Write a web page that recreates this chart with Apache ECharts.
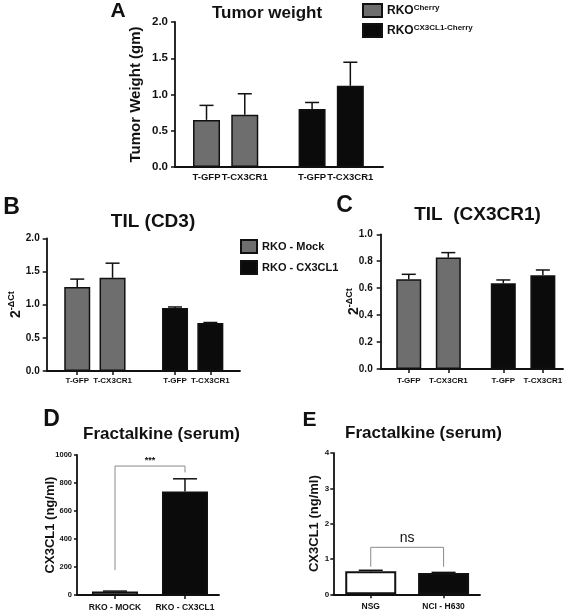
<!DOCTYPE html>
<html><head><meta charset="utf-8">
<script src="https://cdn.jsdelivr.net/npm/echarts@6.0.0/dist/echarts.min.js"></script>
<style>html,body{margin:0;padding:0;background:#fff}#c{width:567px;height:615px}</style>
</head><body><div id="c"></div>
<script>
// ---------- DATA ----------
// Panel A
const catsA = ['T-GFP', 'T-CX3CR1', 'T-GFP', 'T-CX3CR1'];
const groupA = [0, 0, 1, 1];
const seriesNamesA = ['RKOCherry', 'RKOCX3CL1-Cherry'];
const valA = [0.65, 0.72, 0.80, 1.12];
const semA = [0.20, 0.29, 0.09, 0.325];
const ticksA = [0, 0.5, 1.0, 1.5, 2.0];
// Panel B
const catsB = ['T-GFP', 'T-CX3CR1', 'T-GFP', 'T-CX3CR1'];
const groupB = [0, 0, 1, 1];
const seriesNamesB = ['RKO - Mock', 'RKO - CX3CL1'];
const valB = [1.265, 1.405, 0.95, 0.725];
const semB = [0.12, 0.22, 0.015, 0.006];
const ticksB = [0, 0.5, 1.0, 1.5, 2.0];
// Panel C
const catsC = ['T-GFP', 'T-CX3CR1', 'T-GFP', 'T-CX3CR1'];
const groupC = [0, 0, 1, 1];
const valC = [0.666, 0.827, 0.636, 0.696];
const semC = [0.037, 0.037, 0.025, 0.039];
const ticksC = [0, 0.2, 0.4, 0.6, 0.8, 1.0];
// Panel D
const catsD = ['RKO - MOCK', 'RKO - CX3CL1'];
const valD = [25, 740];
const semD = [3, 90];
const ticksD = [0, 200, 400, 600, 800, 1000];
const sigD = { from: 0, to: 1, top: 921, leftEnd: 178, rightEnd: 876, label: '***' };
// Panel E
const catsE = ['NSG', 'NCI - H630'];
const valE = [0.65, 0.60];
const semE = [0.03, 0.02];
const ticksE = [0, 1, 2, 3, 4];
const sigE = { from: 0, to: 1, top: 1.33, leftEnd: 0.78, rightEnd: 0.78, label: 'ns' };

// ---------- STYLE / LAYOUT ----------
const FONT = "'Liberation Sans', Arial, sans-serif";
const INK = '#111';
const GRAY = '#6e6e6e';
const BLACK = '#0b0b0b';

const P = {
  A: {left:175, top:22, width:208, height:145, xmin:-0.824, xmax:4.614, gap:0.76, barW:27, cap:14,
      yFont:11.5, yMargin:7, yTick:4, xFont:9.5, xMargin:5, xTicks:false,
      name:'Tumor Weight (gm)', nameGap:32, nameSize:15, dec:1},
  B: {left:46.7, top:238.3, width:193.3, height:132.7, xmin:-0.865, xmax:4.61, gap:0.77, barW:26, cap:14,
      yFont:10, yMargin:7, yTick:4, xFont:8, xMargin:6, xTicks:true,
      name:'{m|2}{s|-ΔCt}', nameGap:24, nameSize:14, dec:1},
  C: {left:380.7, top:234.3, width:182.3, height:134.7, xmin:-0.709, xmax:3.899, gap:0.39, barW:25, cap:14,
      yFont:10, yMargin:8, yTick:4, xFont:8, xMargin:8, xTicks:true,
      name:'{m|2}{s|-ΔCt}', nameGap:20, nameSize:14, dec:1},
  D: {left:77, top:455, width:142, height:140, xmin:-0.543, xmax:1.486, gap:0, barW:46, cap:24,
      yFont:7.5, yMargin:5, yTick:3, xFont:8.5, xMargin:8, xTicks:true,
      name:'CX3CL1 (ng/ml)', nameGap:20, nameSize:13, dec:0},
  E: {left:333.3, top:453, width:146.7, height:141.3, xmin:-0.514, xmax:1.5, gap:0, barW:51, cap:24,
      yFont:8, yMargin:4, yTick:3, xFont:8.5, xMargin:8, xTicks:true,
      name:'CX3CL1 (ng/ml)', nameGap:12, nameSize:13, dec:0}
};

const grids = [], xAxes = [], yAxes = [], series = [];

function posOf(i, gap) { return i + (i >= 2 ? gap : 0); }

function addPanel(k, cats, vals, sems, ticks, cfg, bars) {
  const pos = cats.map((c, i) => posOf(i, cfg.gap));
  grids.push({left: cfg.left, top: cfg.top, width: cfg.width, height: cfg.height});
  xAxes.push({
    type: 'value', gridIndex: k, min: cfg.xmin, max: cfg.xmax,
    axisLine: {show: true, onZero: false, lineStyle: {color: INK, width: 1.8}},
    axisTick: {show: cfg.xTicks, customValues: pos, length: 4, lineStyle: {color: INK, width: 1.5}},
    axisLabel: {customValues: pos, margin: cfg.xMargin, fontSize: cfg.xFont, fontWeight: 'bold',
      fontFamily: FONT, color: INK, hideOverlap: false, showMinLabel: true, showMaxLabel: true,
      formatter: v => { const j = pos.findIndex(p => Math.abs(p - v) < 1e-6); return j >= 0 ? cats[j] : ''; }},
    splitLine: {show: false}
  });
  yAxes.push({
    type: 'value', gridIndex: k, min: ticks[0], max: ticks[ticks.length - 1], interval: ticks[1] - ticks[0],
    axisLine: {show: true, onZero: false, lineStyle: {color: INK, width: 1.8}},
    axisTick: {show: true, length: cfg.yTick, lineStyle: {color: INK, width: 1.5}},
    axisLabel: {margin: cfg.yMargin, fontSize: cfg.yFont, fontWeight: 'bold', fontFamily: FONT, color: INK,
      formatter: v => v.toFixed(cfg.dec)},
    splitLine: {show: false},
    name: cfg.name, nameLocation: 'middle', nameRotate: 90, nameGap: cfg.nameGap, nameMoveOverlap: false,
    nameTextStyle: {fontSize: cfg.nameSize, fontWeight: 'bold', fontFamily: FONT, color: INK,
      rich: {m: {fontSize: 14, fontWeight: 'bold', fontFamily: FONT, color: INK, verticalAlign: 'bottom'},
             s: {fontSize: 9, fontWeight: 'bold', fontFamily: FONT, color: INK, verticalAlign: 'bottom', padding: [0, 0, 7, 0]}}}
  });
  bars(pos).forEach(s => series.push(Object.assign({type: 'bar', xAxisIndex: k, yAxisIndex: k, barWidth: cfg.barW,
    barGap: '-100%', silent: true, z: 2}, s)));
  // error bars (upper SEM only)
  series.push({
    type: 'custom', xAxisIndex: k, yAxisIndex: k, silent: true, z: 3,
    data: vals.map((v, i) => [pos[i], v, v + sems[i]]),
    encode: {x: 0, y: [1, 2]},
    renderItem: (params, api) => {
      const p0 = api.coord([api.value(0), api.value(1)]);
      const p1 = api.coord([api.value(0), api.value(2)]);
      return {type: 'group', children: [
        {type: 'line', shape: {x1: p0[0], y1: p0[1], x2: p1[0], y2: p1[1]}, style: {stroke: INK, lineWidth: 1.5}},
        {type: 'line', shape: {x1: p1[0] - cfg.cap / 2, y1: p1[1], x2: p1[0] + cfg.cap / 2, y2: p1[1]}, style: {stroke: INK, lineWidth: 1.5}}
      ]};
    }
  });
}

function groupBars(names, groups, vals, colors) {
  return pos => names.map((n, g) => ({
    name: n,
    data: vals.map((v, i) => [pos[i], v]).filter((d, i) => groups[i] === g),
    itemStyle: {color: colors[g], borderColor: INK, borderWidth: 1.5}
  }));
}

function bracket(k, sig, labelSize, labelWeight, labelOffset) {
  series.push({
    type: 'custom', xAxisIndex: k, yAxisIndex: k, silent: true, z: 4,
    data: [[sig.from, sig.to, sig.top, sig.leftEnd, sig.rightEnd]],
    renderItem: (params, api) => {
      const a = api.coord([api.value(0), api.value(3)]);
      const b = api.coord([api.value(0), api.value(2)]);
      const c = api.coord([api.value(1), api.value(2)]);
      const d = api.coord([api.value(1), api.value(4)]);
      return {type: 'group', children: [
        {type: 'polyline', shape: {points: [a, b, c, d]}, style: {stroke: '#8a8a8a', lineWidth: 1, fill: null}},
        {type: 'text', x: (b[0] + c[0]) / 2, y: b[1] - labelOffset,
         style: {text: sig.label, fontSize: labelSize, fontFamily: FONT, fontWeight: labelWeight, fill: INK,
                 align: 'center', verticalAlign: 'bottom'}}
      ]};
    }
  });
}

addPanel(0, catsA, valA, semA, ticksA, P.A, groupBars(seriesNamesA, groupA, valA, [GRAY, BLACK]));
addPanel(1, catsB, valB, semB, ticksB, P.B, groupBars(seriesNamesB, groupB, valB, [GRAY, BLACK]));
addPanel(2, catsC, valC, semC, ticksC, P.C, groupBars(seriesNamesB, groupC, valC, [GRAY, BLACK]));
addPanel(3, catsD, valD, semD, ticksD, P.D, pos => [{name: 'D',
  data: valD.map((v, i) => [pos[i], v]),
  itemStyle: {color: p => [GRAY, BLACK][p.dataIndex], borderColor: INK, borderWidth: 1.5}}]);
addPanel(4, catsE, valE, semE, ticksE, P.E, pos => [{name: 'E',
  data: valE.map((v, i) => [pos[i], v]),
  itemStyle: {color: p => ['#ffffff', BLACK][p.dataIndex], borderColor: INK, borderWidth: 2}}]);
bracket(3, sigD, 9, 'bold', 1);
bracket(4, sigE, 14, 'normal', 2);

const txt = (t, x, y, size) => ({type: 'text', x: x, y: y, silent: true,
  style: {text: t, fontSize: size, fontWeight: 'bold', fontFamily: FONT, fill: INK, align: 'center', verticalAlign: 'middle'}});

const option = {
  animation: false,
  backgroundColor: '#fff',
  grid: grids, xAxis: xAxes, yAxis: yAxes, series: series,
  legend: [
    {data: seriesNamesA, orient: 'vertical', left: 362, top: 3, padding: 0, itemWidth: 19, itemHeight: 13, itemGap: 5,
     icon: 'rect', selectedMode: false,
     formatter: n => '{m|RKO}{s|' + n.slice(3) + '}',
     textStyle: {rich: {
       m: {fontSize: 12, fontWeight: 'bold', fontFamily: FONT, color: INK, verticalAlign: 'bottom'},
       s: {fontSize: 8, fontWeight: 'bold', fontFamily: FONT, color: INK, verticalAlign: 'bottom', padding: [0, 0, 5, 0]}}}},
    {data: seriesNamesB, orient: 'vertical', left: 240, top: 239, padding: 0, itemWidth: 16, itemHeight: 13, itemGap: 6,
     icon: 'rect', selectedMode: false,
     textStyle: {fontSize: 11, fontWeight: 'bold', fontFamily: FONT, color: INK}}
  ],
  graphic: [
    txt('A', 118, 11.7, 21), txt('Tumor weight', 267, 13.3, 17),
    txt('B', 11.5, 208, 23), txt('TIL (CD3)', 153, 222, 19),
    txt('C', 344.5, 206, 23), txt('TIL  (CX3CR1)', 477.5, 215, 19),
    txt('D', 51.5, 420, 23), txt('Fractalkine (serum)', 161.5, 434, 17),
    txt('E', 309.5, 420.5, 21), txt('Fractalkine (serum)', 423.5, 433, 17)
  ]
};
const chart = echarts.init(document.getElementById('c'), null, {renderer: 'canvas'});
chart.setOption(option);
</script></body></html>
